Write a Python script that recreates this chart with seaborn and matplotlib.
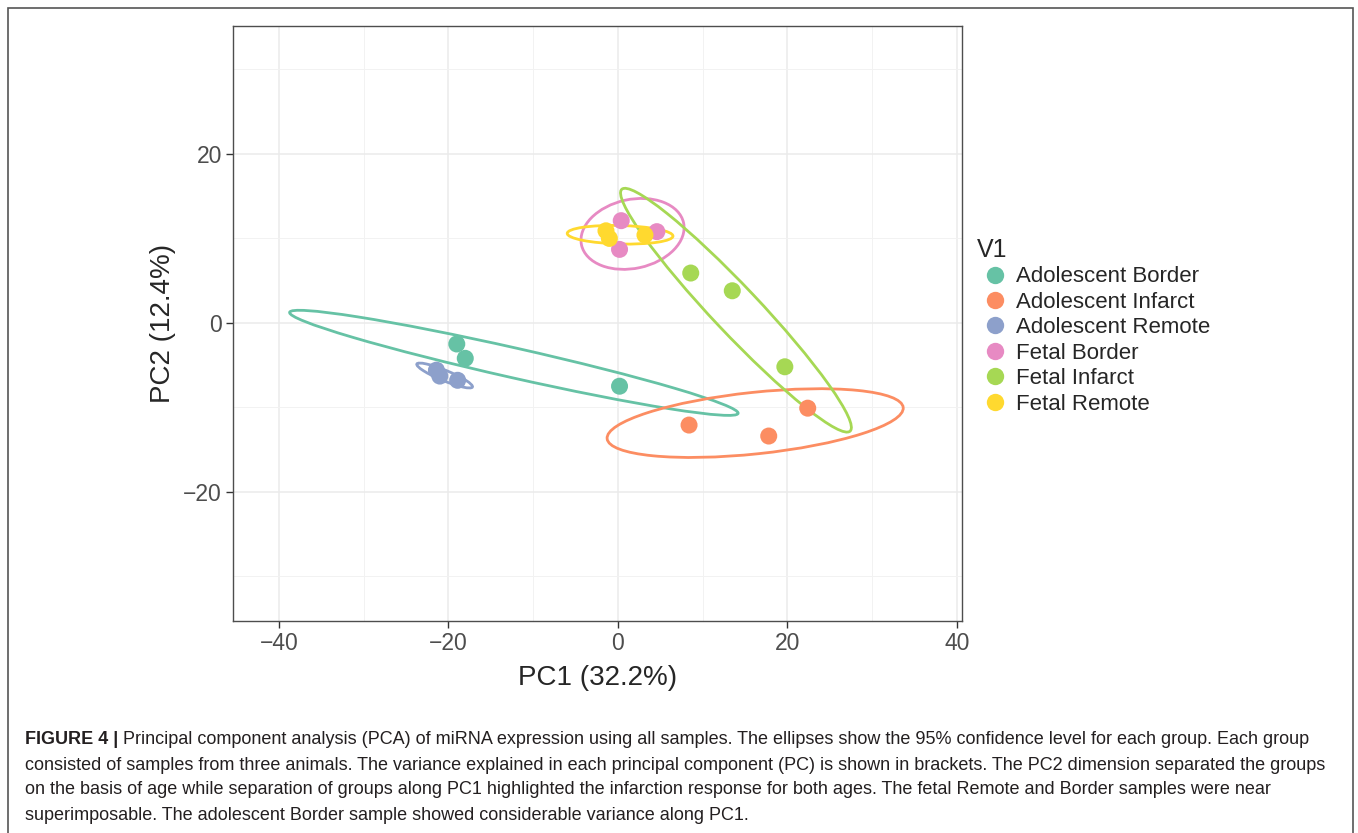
import numpy as np
import pandas as pd
import matplotlib
matplotlib.use("Agg")
import matplotlib.pyplot as plt
from matplotlib.patches import Ellipse, Rectangle
import seaborn as sns

# --- data ---
groups = ["Adolescent Border", "Adolescent Infarct", "Adolescent Remote",
          "Fetal Border", "Fetal Infarct", "Fetal Remote"]

pc1_ado_border = [-19.0, -18.0, 0.2]
pc2_ado_border = [-2.5, -4.2, -7.5]
pc1_ado_infarct = [8.4, 17.8, 22.4]
pc2_ado_infarct = [-12.1, -13.4, -10.1]
pc1_ado_remote = [-21.4, -21.0, -18.9]
pc2_ado_remote = [-5.6, -6.3, -6.8]
pc1_fet_border = [0.4, 0.2, 4.6]
pc2_fet_border = [12.1, 8.7, 10.8]
pc1_fet_infarct = [8.6, 13.5, 19.7]
pc2_fet_infarct = [5.9, 3.8, -5.2]
pc1_fet_remote = [-1.4, -1.0, 3.2]
pc2_fet_remote = [10.9, 10.0, 10.4]

pc1 = [pc1_ado_border, pc1_ado_infarct, pc1_ado_remote,
       pc1_fet_border, pc1_fet_infarct, pc1_fet_remote]
pc2 = [pc2_ado_border, pc2_ado_infarct, pc2_ado_remote,
       pc2_fet_border, pc2_fet_infarct, pc2_fet_remote]

df = pd.DataFrame({
    "PC1": np.concatenate(pc1),
    "PC2": np.concatenate(pc2),
    "V1": np.repeat(groups, [len(v) for v in pc1]),
})

caption_bold = "FIGURE 4 |"
caption_lines = [
    " Principal component analysis (PCA) of miRNA expression using all samples. The ellipses show the 95% confidence level for each group. Each group",
    "consisted of samples from three animals. The variance explained in each principal component (PC) is shown in brackets. The PC2 dimension separated the groups",
    "on the basis of age while separation of groups along PC1 highlighted the infarction response for both ages. The fetal Remote and Border samples were near",
    "superimposable. The adolescent Border sample showed considerable variance along PC1.",
]

sns.set_theme(style="white")
plt.rcParams['font.family'] = ['Liberation Sans', 'DejaVu Sans']

palette = dict(zip(groups, sns.color_palette("Set2", 6)))

W, H = 1358, 833
fig = plt.figure(figsize=(W / 100, H / 100), dpi=100)
ax = fig.add_axes([233 / W, 1 - 621 / H, (962 - 233) / W, (621 - 26) / H])

# grid like theme_bw
for v in [-40, -20, 0, 20, 40]:
    ax.axvline(v, color="#ebebeb", lw=1.1, zorder=0)
for v in [-30, -10, 10, 30]:
    ax.axvline(v, color="#f2f2f2", lw=0.7, zorder=0)
for v in [-20, 0, 20]:
    ax.axhline(v, color="#ebebeb", lw=1.1, zorder=0)
for v in [-30, -10, 10, 30]:
    ax.axhline(v, color="#f2f2f2", lw=0.7, zorder=0)

sns.scatterplot(data=df, x="PC1", y="PC2", hue="V1", hue_order=groups,
                palette=palette, s=150, linewidth=0, ax=ax, zorder=3)

# 95% normal confidence ellipses (chi-square, 2 df)
r = np.sqrt(-2 * np.log(0.05))
for g, xs, ys in zip(groups, pc1, pc2):
    cov = np.cov(xs, ys)
    vals, vecs = np.linalg.eigh(cov)
    ang = np.degrees(np.arctan2(vecs[1, -1], vecs[0, -1]))
    e = Ellipse((np.mean(xs), np.mean(ys)), 2 * r * np.sqrt(vals[-1]),
                2 * r * np.sqrt(max(vals[0], 0)), angle=ang, fill=False,
                edgecolor=palette[g], lw=2.0, zorder=2)
    ax.add_patch(e)

ax.set_xlim(-45.4, 40.6)
ax.set_ylim(-35.3, 35.15)
ax.set_xticks([-40, -20, 0, 20, 40])
ax.set_yticks([-20, 0, 20])
ax.tick_params(axis="both", labelsize=16.5, labelcolor="#4d4d4d", length=5,
               width=1.0, color="#333333", direction="out", pad=3,
               bottom=True, left=True)
for sp in ax.spines.values():
    sp.set_color("#4d4d4d")
    sp.set_linewidth(1.0)
ax.set_xlabel("PC1 (32.2%)", fontsize=20, labelpad=7)
ax.set_ylabel("PC2 (12.4%)", fontsize=20, labelpad=5)

leg = ax.legend(title="V1", loc="upper left", bbox_to_anchor=(968 / W, 1 - 229 / H),
                bbox_transform=fig.transFigure, frameon=False, fontsize=16,
                title_fontsize=18, handletextpad=0.15, labelspacing=0.2,
                borderaxespad=0, alignment="left", handlelength=1.6)
for h in leg.legend_handles:
    h.set_markersize(12.5)

# caption, sized so the second line spans the same width as the reference
cap_kw = dict(color="#231f20", va="center", ha="left")
probe = fig.text(0, 0, caption_lines[1], fontsize=12, **cap_kw)
fig.canvas.draw()
cap_size = 12 * 1300 / probe.get_window_extent().width
probe.remove()

t0 = fig.text(25 / W, 1 - 740 / H, caption_bold, fontsize=cap_size,
              fontweight="bold", **cap_kw)
fig.canvas.draw()
bb = t0.get_window_extent()
fig.text(bb.x1 / W, 1 - 740 / H, caption_lines[0], fontsize=cap_size, **cap_kw)
for i, line in enumerate(caption_lines[1:]):
    fig.text(25 / W, 1 - (765 + 25 * i) / H, line, fontsize=cap_size, **cap_kw)

# outer frame
fig.add_artist(Rectangle((8 / W, -0.05), (1353 - 8) / W, 1.05 - 8 / H,
                         transform=fig.transFigure, fill=False,
                         edgecolor="#555555", lw=1.2))

fig.savefig("out.png", dpi=100)
